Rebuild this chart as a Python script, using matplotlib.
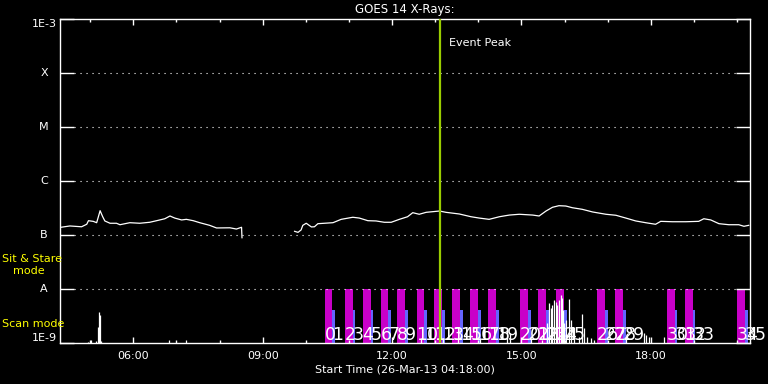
import matplotlib.pyplot as plt
from matplotlib.ticker import NullLocator, FixedLocator
import matplotlib.transforms as mtransforms


def hrs(s):
    h, m = s.split(':')
    return int(h) + int(m) / 60.0


# GOES 14 long channel flux (W/m^2), two pieces either side of the data gap
seg1_hr = [4.32, 4.53, 4.80, 4.92, 4.96, 5.07, 5.15, 5.19, 5.23, 5.29, 5.34, 5.46, 5.61, 5.69, 5.92,
           6.15, 6.38, 6.54, 6.73, 6.85, 6.96, 7.12, 7.23, 7.39, 7.54, 7.77, 7.93, 8.24, 8.39, 8.51, 8.52]
seg1_flux = [1.39, 1.47, 1.42, 1.58, 1.84, 1.79, 1.69, 2.18, 2.82, 2.18, 1.82, 1.65, 1.65, 1.55, 1.69,
             1.65, 1.72, 1.84, 2.00, 2.25, 2.06, 1.90, 1.95, 1.84, 1.69, 1.51, 1.35, 1.36, 1.29, 1.39, 0.89]
seg2_hr = [9.74, 9.82, 9.89, 9.93, 10.01, 10.13, 10.20, 10.28, 10.63, 10.82, 11.09, 11.24, 11.44, 11.63,
           11.82, 11.98, 12.17, 12.36, 12.48, 12.63, 12.79, 13.10, 13.25, 13.56, 13.83, 14.02, 14.25,
           14.49, 14.72, 14.95, 15.26, 15.41, 15.57, 15.72, 15.87, 16.03, 16.18, 16.41, 16.65, 16.96,
           17.19, 17.42, 17.65, 17.88, 18.11, 18.23, 18.50, 18.81, 19.11, 19.23, 19.39, 19.58, 19.81,
           20.04, 20.16, 20.27]
seg2_flux = [1.17, 1.12, 1.24, 1.51, 1.65, 1.41, 1.42, 1.62, 1.69, 1.95, 2.13, 2.06, 1.84, 1.82,
             1.72, 1.72, 1.95, 2.18, 2.59, 2.42, 2.63, 2.78, 2.63, 2.45, 2.18, 2.06, 1.95,
             2.18, 2.34, 2.42, 2.34, 2.25, 2.78, 3.26, 3.49, 3.44, 3.20, 2.99, 2.67, 2.42,
             2.32, 2.06, 1.82, 1.69, 1.58, 1.79, 1.76, 1.76, 1.79, 2.00, 1.90, 1.62, 1.55,
             1.55, 1.45, 1.51]
flux_unit = 1e-7

# spiky trace in the bottom band
spike_hr = [4.95, 5.01, 5.14, 5.19, 5.21, 5.23, 5.26, 6.82, 7.22, 12.68, 13.19, 13.54, 14.05, 14.67,
            14.74, 15.23, 15.48, 15.60, 15.64, 15.69, 15.71, 15.76, 15.80, 15.83, 15.87, 15.92, 15.94,
            15.96, 15.99, 16.04, 16.11, 16.15, 16.22, 16.34, 16.41, 16.45, 16.52, 16.61, 16.68, 17.43,
            17.84, 17.89, 17.96, 18.30]
spike_val = [1.06, 1.14, 1.10, 2.00, 3.75, 3.34, 1.10, 1.14, 1.14, 1.24, 1.24, 1.24, 1.24, 1.90,
             1.53, 1.24, 1.14, 2.35, 5.50, 4.45, 5.06, 6.26, 5.74, 5.06, 6.26, 7.74, 6.81,
             4.08, 2.35, 2.67, 6.53, 2.67, 1.98, 1.29, 3.44, 1.90, 1.29, 1.24, 1.14, 1.29,
             1.53, 1.40, 1.29, 1.29]
spike_unit = 1e-9

# observation blocks: sit & stare start times, then a short scan
obs_start = ['10:26', '10:54', '11:19', '11:44', '12:07', '12:34', '12:59', '13:24', '13:49',
             '14:14', '14:58', '15:23', '15:48', '16:45', '17:10', '18:22', '18:47', '20:00']
ss_minutes = 11
scan_minutes = 4
ss_top = 1e-8
scan_top = 4.1e-9
obs_labels = ['0', '1', '2', '3', '4', '5', '6', '7', '8', '9', '10', '11', '12', '13', '14', '15',
              '16', '17', '18', '19', '20', '21', '22', '23', '24', '25', '26', '27', '28', '29',
              '30', '31', '32', '33', '34', '35']

event_peak = '13:06'
level_vals = [1e-9, 1e-8, 1e-7, 1e-6, 1e-5, 1e-4, 1e-3]
level_names = ['1E-9', 'A', 'B', 'C', 'M', 'X', '1E-3']
xtick_hr = [6, 9, 12, 15, 18]
xtick_lab = ['06:00', '09:00', '12:00', '15:00', '18:00']
minor_hr = [5, 7, 8, 10, 11, 13, 14, 16, 17, 19, 20]
t_start, t_end = 4.3, 20.3

W, H = 768, 384
fig = plt.figure(figsize=(W / 100, H / 100), dpi=100, facecolor='black')
ax = fig.add_axes([60 / W, 1 - 343 / H, 690 / W, 324 / H])
ax.set_facecolor('black')
ax.set_yscale('log')
ax.set_ylim(1e-9, 1e-3)
ax.set_xlim(t_start, t_end)

for s in ax.spines.values():
    s.set_color('white')
    s.set_linewidth(1)

# bars
for i, st in enumerate(obs_start):
    t0 = hrs(st)
    ss_w = ss_minutes / 60.0
    sc_w = scan_minutes / 60.0
    ax.bar(t0, ss_top - 1e-9, bottom=1e-9, width=ss_w, align='edge', color='#c800c8', zorder=1)
    ax.bar(t0 + ss_w, scan_top - 1e-9, bottom=1e-9, width=sc_w, align='edge', color='#6464ff', zorder=1)
    ax.text(t0, 1.12e-9, obs_labels[2 * i], color='white', fontsize=12.5, ha='left', va='baseline',
            family=['Liberation Sans Narrow', 'DejaVu Sans'], zorder=4)
    ax.text(t0 + ss_w, 1.12e-9, obs_labels[2 * i + 1], color='white', fontsize=12.5, ha='left',
            va='baseline', family=['Liberation Sans Narrow', 'DejaVu Sans'], zorder=4)

# dotted level lines
frac = 14 / 690
for lev in level_vals[1:-1]:
    ax.axhline(lev, xmin=frac, xmax=1 - frac, color='white', lw=0.8, ls=(0, (1, 4.4)), zorder=2)

ax.plot(seg1_hr, [f * flux_unit for f in seg1_flux], color='white', lw=0.9, zorder=3)
ax.plot(seg2_hr, [f * flux_unit for f in seg2_flux], color='white', lw=0.9, zorder=3)
ax.vlines(spike_hr, 1e-9, [v * spike_unit for v in spike_val], color='white', lw=0.9, zorder=3)

ax.axvline(hrs(event_peak), color='#99cc00', lw=1.6, zorder=5)
ax.text(hrs(event_peak) + 0.21, 3.6e-4, 'Event Peak', color='white', fontsize=8, va='center', ha='left')

# axes ticks
ax.yaxis.set_major_locator(FixedLocator(level_vals))
ax.yaxis.set_minor_locator(NullLocator())
ax.tick_params(axis='y', which='major', direction='in', length=10, width=1, color='white',
               left=True, right=True, labelleft=False)
trans = mtransforms.blended_transform_factory(ax.transAxes, ax.transData)
for v, name in zip(level_vals, level_names):
    va = 'center'
    if name == '1E-3':
        va = 'top'
    elif name == '1E-9':
        va = 'bottom'
    ax.text(-16 / 690, v, name, transform=trans, color='white', fontsize=8, ha='center', va=va)

ax.set_xticks(xtick_hr)
ax.set_xticklabels(xtick_lab)
ax.set_xticks(minor_hr, minor=True)
ax.tick_params(axis='x', which='major', direction='in', length=4.5, width=1, color='white',
               top=True, bottom=True, labelcolor='white', labelsize=8, pad=6)
ax.tick_params(axis='x', which='minor', direction='in', length=2.3, width=1, color='white',
               top=True, bottom=True)
ax.set_xlabel('Start Time (26-Mar-13 04:18:00)', color='white', fontsize=8, labelpad=2)

fig.text(405 / W, 1 - 9 / H, 'GOES 14 X-Rays:', color='white', fontsize=8.5, ha='center', va='center')
fig.text(2 / W, 1 - 259 / H, 'Sit & Stare', color='yellow', fontsize=8, ha='left', va='center')
fig.text(13 / W, 1 - 271 / H, 'mode', color='yellow', fontsize=8, ha='left', va='center')
fig.text(2 / W, 1 - 324 / H, 'Scan mode', color='yellow', fontsize=8, ha='left', va='center')

fig.savefig('out.png', dpi=100, facecolor='black')
